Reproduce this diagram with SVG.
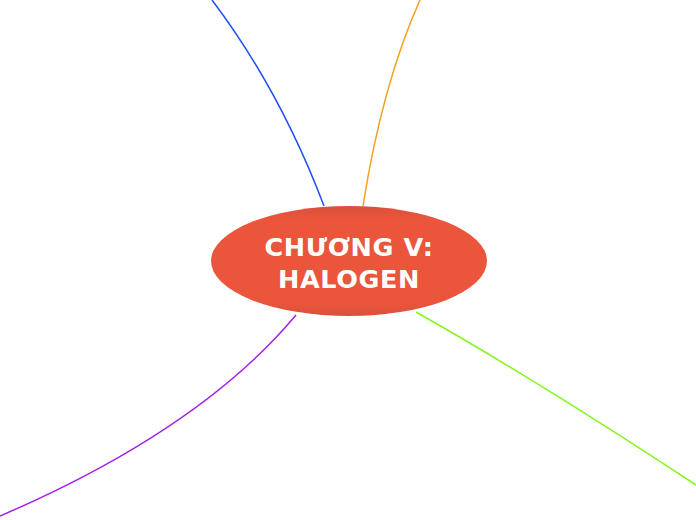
<svg xmlns="http://www.w3.org/2000/svg" width="696" height="520" viewBox="0 0 696 520">
<style>
.c{fill:none;stroke-width:1.5}
.t{font-family:"DejaVu Sans",sans-serif;font-weight:bold;font-size:25.5px;letter-spacing:0.6px;fill:#fff;text-anchor:middle}
</style>
<defs>
<linearGradient id="g" x1="0" y1="0" x2="0" y2="1">
<stop offset="0" stop-color="#DA503A"/>
<stop offset="0.12" stop-color="#EA553C"/>
<stop offset="0.88" stop-color="#EA553C"/>
<stop offset="1" stop-color="#DA503A"/>
</linearGradient>
</defs>
<rect width="696" height="520" fill="#fff"/>
<g id="connectors">
<path class="c" stroke="#1F4FF0" d="M212,0 Q280,90 324,206"/>
<path class="c" stroke="#F5A11F" d="M420,0 Q382,85 363,206"/>
<path class="c" stroke="#A31FF0" d="M0,516 Q200,430 296,315"/>
<path class="c" stroke="#86F51F" d="M416,312 Q540,382 696,485"/>
</g>
<g id="root">
<ellipse cx="349" cy="261" rx="138" ry="55" fill="url(#g)"/>
<text class="t" x="349" y="256">CHƯƠNG V:</text>
<text class="t" x="349" y="288">HALOGEN</text>
</g>
</svg>
